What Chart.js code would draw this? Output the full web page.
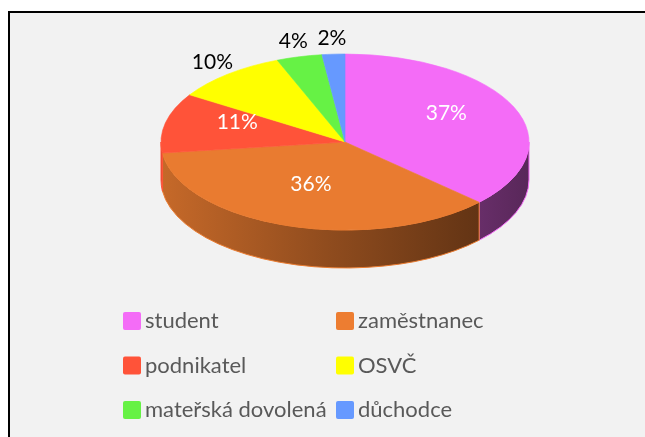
<!DOCTYPE html>
<html>
<head>
<meta charset="utf-8">
<script src="https://cdn.jsdelivr.net/npm/chart.js@4"></script>
<style>
  body { margin: 0; background: #fff; }
  #frame { position: absolute; left: 8px; top: 11px; width: 700px; height: 500px;
           border: 2px solid #000; background: #f2f2f2; }
  #wrap { position: absolute; left: 0; top: 0; width: 645px; height: 437px; }
</style>
</head>
<body>
<div id="frame"></div>
<div id="wrap"><canvas id="myChart" width="645" height="437"></canvas></div>
<script>
labels = ['student', 'zaměstnanec', 'podnikatel', 'OSVČ', 'mateřská dovolená', 'důchodce']
values = [37, 36, 11, 10, 4, 2]
colors = ['#f46cf7', '#e97b30', '#ff5339', '#ffff00', '#66f245', '#6699ff']
legendColors = ['#f46cf7', '#ed7d31', '#ff5339', '#ffff00', '#66f245', '#6699ff']

// where the flattened pie sits on the page
var CX = 345, CY = 142, RX = 184, RY = 88, DEPTH = 38
var FONT = '"Lato", "Open Sans", sans-serif'

function shade(hex, k) {
    var n = parseInt(hex.slice(1), 16)
    var r = Math.round(((n >> 16) & 255) * k)
    var g = Math.round(((n >> 8) & 255) * k)
    var b = Math.round((n & 255) * k)
    return 'rgb(' + r + ',' + g + ',' + b + ')'
}

var pie3d = {
    id: 'pie3d',
    beforeDatasetsDraw: function (chart) {
        var ctx = chart.ctx
        var meta = chart.getDatasetMeta(0)
        // side walls, only the front half is visible
        meta.data.forEach(function (arc, i) {
            for (var k = -1; k <= 1; k++) {
                var lo = Math.max(arc.startAngle, 2 * Math.PI * k)
                var hi = Math.min(arc.endAngle, 2 * Math.PI * k + Math.PI)
                if (hi <= lo) continue
                var grad = ctx.createLinearGradient(CX - RX, 0, CX + RX, 0)
                grad.addColorStop(0, shade(colors[i], 0.85))
                grad.addColorStop(0.45, shade(colors[i], 0.62))
                grad.addColorStop(1, shade(colors[i], 0.36))
                ctx.beginPath()
                ctx.ellipse(CX, CY, RX, RY, 0, lo, hi, false)
                ctx.lineTo(CX + RX * Math.cos(hi), CY + DEPTH + RY * Math.sin(hi))
                ctx.ellipse(CX, CY + DEPTH, RX, RY, 0, hi, lo, true)
                ctx.closePath()
                ctx.fillStyle = grad
                ctx.fill()
                ctx.strokeStyle = colors[i]
                ctx.lineWidth = 1
                ctx.stroke()
            }
        })
        // squash the library's round pie into the top face
        var a0 = meta.data[0]
        var R = a0.outerRadius
        ctx.save()
        ctx.translate(CX, CY)
        ctx.scale(RX / R, RY / R)
        ctx.translate(-a0.x, -a0.y)
    },
    afterDatasetsDraw: function (chart) {
        var ctx = chart.ctx
        ctx.restore()
        var meta = chart.getDatasetMeta(0)
        var total = values.reduce(function (a, b) { return a + b }, 0)
        ctx.font = '21px ' + FONT
        ctx.textAlign = 'center'
        ctx.textBaseline = 'middle'
        meta.data.forEach(function (arc, i) {
            var mid = (arc.startAngle + arc.endAngle) / 2
            var c = Math.cos(mid), s = Math.sin(mid)
            var txt = Math.round(values[i] / total * 100) + '%'
            if (values[i] > 10) {
                ctx.fillStyle = '#ffffff'
                ctx.fillText(txt, CX + RX * c * 0.6, CY + RY * s * 0.6 - 8)
            } else {
                ctx.fillStyle = '#000000'
                ctx.fillText(txt, CX + RX * c + c * 24, CY + RY * s + s * 16)
            }
        })
        // legend, two columns
        ctx.font = '22px ' + FONT
        ctx.textAlign = 'left'
        labels.forEach(function (lab, i) {
            var x = i % 2 == 0 ? 123 : 336
            var y = 321 + Math.floor(i / 2) * 44.5
            ctx.fillStyle = legendColors[i]
            ctx.beginPath()
            ctx.roundRect(x, y - 9, 18, 18, 2)
            ctx.fill()
            ctx.fillStyle = '#595959'
            ctx.fillText(lab, x + 22, y)
        })
    }
}

var ctx = document.getElementById('myChart').getContext('2d');
var chart = new Chart(ctx, {
    type: 'pie',
    data: {
        labels: labels,
        datasets: [{
            data: values,
            backgroundColor: colors,
            borderColor: colors,
            borderWidth: 1
        }]
    },
    options: {
        responsive: false,
        animation: false,
        plugins: {
            legend: { display: false },
            tooltip: { enabled: false }
        }
    },
    plugins: [pie3d]
});
</script>
</body>
</html>
